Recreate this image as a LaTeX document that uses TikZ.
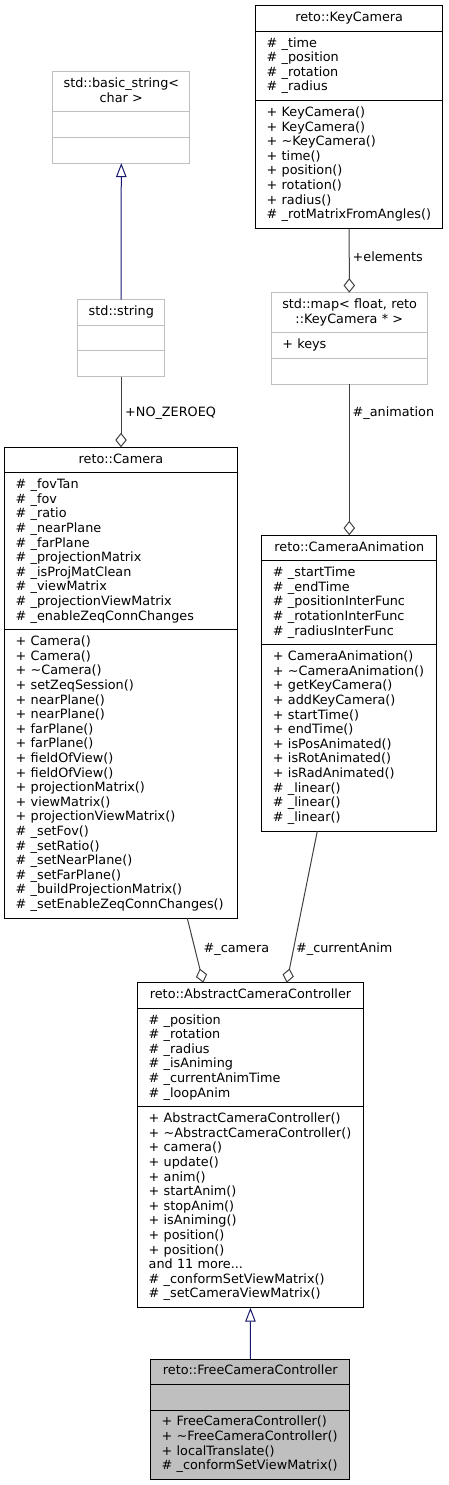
\documentclass[tikz,border=0pt]{standalone}
\usepackage{fontspec}
\newfontfamily\umlfont{DejaVu Sans}
\usepackage{tikz}
\usetikzlibrary{arrows.meta,positioning}

\definecolor{edgegray}{HTML}{404040}
\definecolor{extgray}{HTML}{BFBFBF}
\definecolor{basegray}{HTML}{BFBFBF}
\definecolor{inhblue}{HTML}{191970}

\begin{document}
\begin{tikzpicture}[
    x=1pt, y=-1pt,
    umlbox/.style={draw, line width=1pt, outer sep=0pt, fill=white,
                   inner xsep=11pt, inner ysep=5.5pt,
                   font=\umlfont\fontsize{12.8}{14.6}\selectfont,
                   execute at begin node={\noindent\strut},
                   execute at end node={\strut}},
    namebox/.style={umlbox, align=center, text width=#1},
    membox/.style={umlbox, align=left, text width=#1},
    extbox/.style={draw=extgray},
    basebox/.style={fill=basegray},
    assoc/.style={-{Diamond[open, length=14.5pt, width=11.5pt]},
                  edgegray, line width=1pt},
    inherit/.style={-{Triangle[open, length=14pt, width=10.5pt]},
                    inhblue, line width=1pt},
    elabel/.style={font=\umlfont\fontsize{12.8}{14.6}\selectfont,
                   inner sep=0pt, anchor=mid west},
  ]
  \useasboundingbox (0,0) rectangle (448,1485);

  % === std::basic_string< char > ===
  \node[namebox=115.3pt, extbox, anchor=north] (bstr) at (121.3,71.7) {std::basic\_string<\\char~>};
  \node[membox=115.3pt, extbox, below=0pt of bstr] (bstr-a) {};
  \node[membox=115.3pt, extbox, below=0pt of bstr-a] (bstr-m) {};

  % === std::string ===
  \node[namebox=64.6pt, extbox, anchor=north] (str) at (121,299.7) {std::string};
  \node[membox=64.6pt, extbox, below=0pt of str] (str-a) {};
  \node[membox=64.6pt, extbox, below=0pt of str-a] (str-m) {};

  % === reto::KeyCamera ===
  \node[namebox=165pt, anchor=north] (key) at (349.2,5.7) {reto::KeyCamera};
  \node[membox=165pt, below=0pt of key] (key-a) {\#~\_time\\
    \#~\_position\\
    \#~\_rotation\\
    \#~\_radius};
  \node[membox=165pt, below=0pt of key-a] (key-m) {+~KeyCamera()\\
    +~KeyCamera()\\
    +~\textasciitilde KeyCamera()\\
    +~time()\\
    +~position()\\
    +~rotation()\\
    +~radius()\\
    \#~\_rotMatrixFromAngles()};

  % === std::map< float, reto::KeyCamera * > ===
  \node[namebox=134pt, extbox, anchor=north] (map) at (349.3,292.7) {std::map<~float,~reto\\::KeyCamera~*~>};
  \node[membox=134pt, extbox, below=0pt of map] (map-a) {+~keys};
  \node[membox=134pt, extbox, below=0pt of map-a] (map-m) {};

  % === reto::Camera ===
  \node[namebox=210.6pt, anchor=north] (cam) at (121,447.3) {reto::Camera};
  \node[membox=210.6pt, below=0pt of cam] (cam-a) {\#~\_fovTan\\
    \#~\_fov\\
    \#~\_ratio\\
    \#~\_nearPlane\\
    \#~\_farPlane\\
    \#~\_projectionMatrix\\
    \#~\_isProjMatClean\\
    \#~\_viewMatrix\\
    \#~\_projectionViewMatrix\\
    \#~\_enableZeqConnChanges};
  \node[membox=210.6pt, below=0pt of cam-a] (cam-m) {+~Camera()\\
    +~Camera()\\
    +~\textasciitilde Camera()\\
    +~setZeqSession()\\
    +~nearPlane()\\
    +~nearPlane()\\
    +~farPlane()\\
    +~farPlane()\\
    +~fieldOfView()\\
    +~fieldOfView()\\
    +~projectionMatrix()\\
    +~viewMatrix()\\
    +~projectionViewMatrix()\\
    \#~\_setFov()\\
    \#~\_setRatio()\\
    \#~\_setNearPlane()\\
    \#~\_setFarPlane()\\
    \#~\_buildProjectionMatrix()\\
    \#~\_setEnableZeqConnChanges()};

  % === reto::CameraAnimation ===
  \node[namebox=152.7pt, anchor=north] (anim) at (349.3,535.3) {reto::CameraAnimation};
  \node[membox=152.7pt, below=0pt of anim] (anim-a) {\#~\_startTime\\
    \#~\_endTime\\
    \#~\_positionInterFunc\\
    \#~\_rotationInterFunc\\
    \#~\_radiusInterFunc};
  \node[membox=152.7pt, below=0pt of anim-a] (anim-m) {+~CameraAnimation()\\
    +~\textasciitilde CameraAnimation()\\
    +~getKeyCamera()\\
    +~addKeyCamera()\\
    +~startTime()\\
    +~endTime()\\
    +~isPosAnimated()\\
    +~isRotAnimated()\\
    +~isRadAnimated()\\
    \#~\_linear()\\
    \#~\_linear()\\
    \#~\_linear()};

  % === reto::AbstractCameraController ===
  \node[namebox=203.6pt, anchor=north] (acc) at (250.5,982.7) {reto::AbstractCameraController};
  \node[membox=203.6pt, below=0pt of acc] (acc-a) {\#~\_position\\
    \#~\_rotation\\
    \#~\_radius\\
    \#~\_isAniming\\
    \#~\_currentAnimTime\\
    \#~\_loopAnim};
  \node[membox=203.6pt, below=0pt of acc-a] (acc-m) {+~AbstractCameraController()\\
    +~\textasciitilde AbstractCameraController()\\
    +~camera()\\
    +~update()\\
    +~anim()\\
    +~startAnim()\\
    +~stopAnim()\\
    +~isAniming()\\
    +~position()\\
    +~position()\\
    and~11~more...\\
    \#~\_conformSetViewMatrix()\\
    \#~\_setCameraViewMatrix()};

  % === reto::FreeCameraController ===
  \node[namebox=177.3pt, basebox, anchor=north] (free) at (250.3,1359) {reto::FreeCameraController};
  \node[membox=177.3pt, basebox, below=0pt of free] (free-a) {};
  \node[membox=177.3pt, basebox, below=0pt of free-a] (free-m) {+~FreeCameraController()\\
    +~\textasciitilde FreeCameraController()\\
    +~localTranslate()\\
    \#~\_conformSetViewMatrix()};

  % Inheritance
  \draw[inherit] (str.north) -- (bstr-m.south);
  \draw[inherit] (free.north) -- (acc-m.south);

  % Associations
  \draw[assoc] (key-m.south) -- (map.north);
  \draw[assoc] (str-m.south) -- (cam.north);
  \draw[assoc] (map-m.south) -- (anim.north);
  \draw[assoc] ([xshift=66.3pt]cam-m.south) -- ([xshift=-47.2pt]acc.north);
  \draw[assoc] ([xshift=-32pt]anim-m.south) -- ([xshift=36.2pt]acc.north);

  % Edge labels
  \node[elabel] (l-elem) at (352.5,259.3) {+elements};
  \node[elabel] (l-zero) at (125,414.7) {+NO\_ZEROEQ};
  \node[elabel] (l-anim) at (352.5,414.7) {\#\_animation};
  \node[elabel] (l-cam) at (203.5,950.7) {\#\_camera};
  \node[elabel] (l-cur) at (296,950.7) {\#\_currentAnim};

\end{tikzpicture}
\end{document}
